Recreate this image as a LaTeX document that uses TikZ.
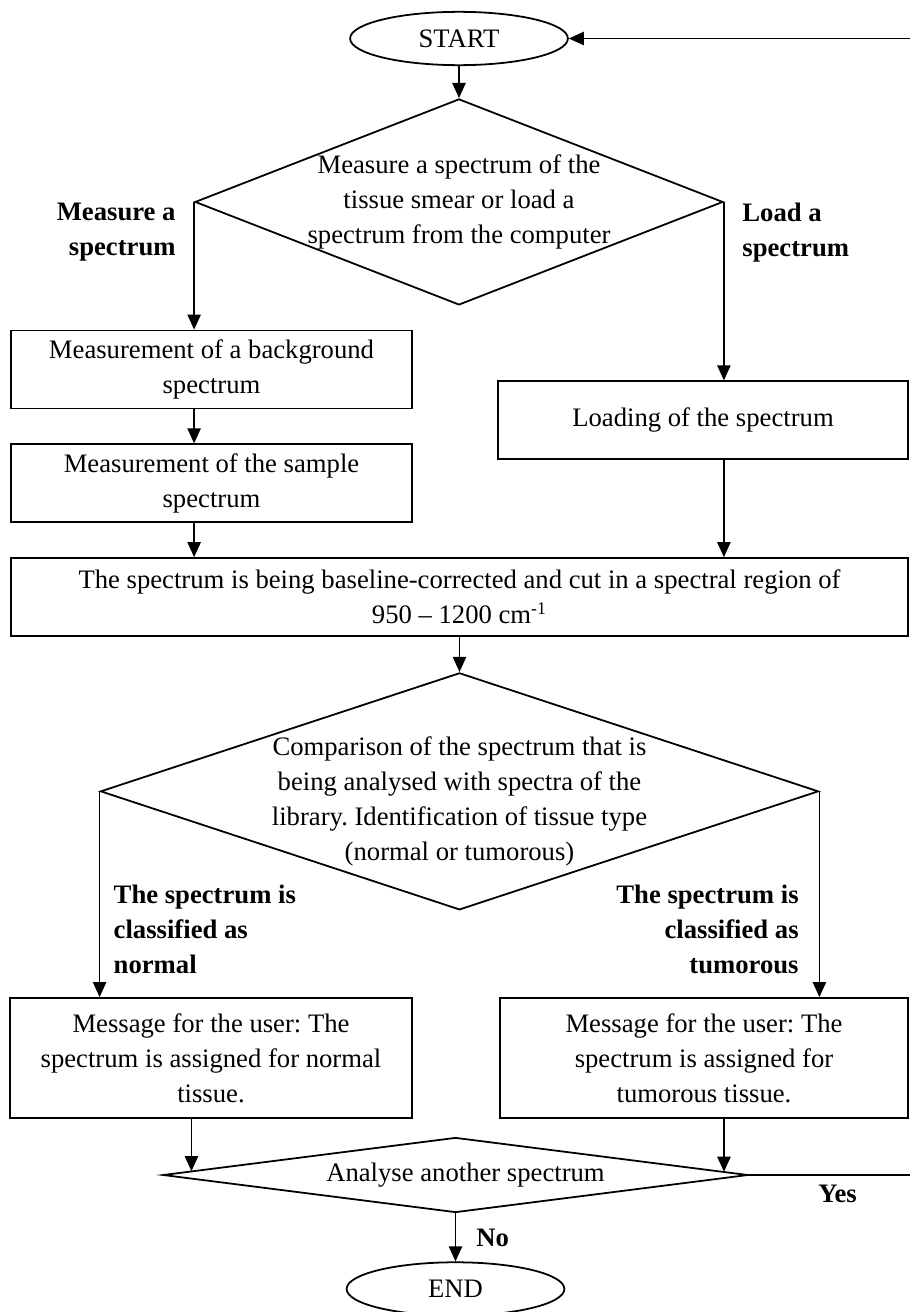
\documentclass[tikz,border=0pt]{standalone}
\usepackage{fontspec}
\setmainfont{Liberation Serif}
\usetikzlibrary{shapes.geometric,arrows.meta,positioning,calc}
\frenchspacing

\begin{document}
\begin{tikzpicture}[
  x=0.45pt,y=-0.45pt,
  txt/.style={font=\fontsize{12}{15.75}\selectfont},
  bold/.style={font=\fontsize{12}{15.75}\selectfont\bfseries,inner sep=0pt},
  term/.style={draw,ellipse,line width=0.8pt,minimum width=98pt,minimum height=24pt,inner sep=0pt,txt},
  box/.style={draw,rectangle,line width=0.8pt,minimum height=35.1pt,inner sep=0pt,align=center,txt},
  decision/.style={draw,diamond,line width=0.8pt,inner sep=0pt},
  dtext/.style={align=center,inner sep=0pt,txt},
  arrow/.style={-{Triangle[length=6.8pt,width=6pt]},line width=0.7pt}
]
  \useasboundingbox (0,0) rectangle (910,1312);

  \node[term] (start) at (459,38.5) {START};
  \node[decision,below=14.4pt of start,minimum width=237.6pt,minimum height=92.7pt,
        label={[dtext]center:{Measure a spectrum of the\\tissue smear or load a\\spectrum from the computer}}] (q1) {};
  \node[box,minimum width=180.45pt] (bg) at (211.5,369.5) {Measurement of a background\\spectrum};
  \node[box,below=15.3pt of bg,minimum width=180.45pt] (smp) {Measurement of the sample\\spectrum};
  \node[box,below=15.3pt of smp.south west,anchor=north west,minimum width=403.65pt] (base)
        {The spectrum is being baseline-corrected and cut in a spectral region of\\950 -- 1200 cm\textsuperscript{-1}};
  \node[box,above=43.65pt of base.north east,anchor=south east,minimum width=184.5pt] (load) {Loading of the spectrum};
  \node[decision,below=15.75pt of base,minimum width=323.1pt,minimum height=106.65pt,
        label={[dtext,yshift=-4.5pt]center:{Comparison of the spectrum that is\\being analysed with spectra of the\\library. Identification of tissue type\\(normal or tumorous)}}] (q2) {};
  \node[box,minimum width=180.9pt,minimum height=54pt] (nrm) at (211,1058)
        {Message for the user: The\\spectrum is assigned for normal\\tissue.};
  \node[box,minimum width=183.6pt,minimum height=54pt] (tum) at (704,1058)
        {Message for the user: The\\spectrum is assigned for\\tumorous tissue.};
  \node[decision,minimum width=263.25pt,minimum height=33.75pt,
        label={[dtext,xshift=4.5pt]center:{Analyse another spectrum}}] (ask) at (455.5,1175) {};
  \node[term,below=21.6pt of ask] (fin) {END};

  % upper part
  \draw[arrow] (start) -- (q1);
  \draw[arrow] (q1.west) -- (q1.west |- bg.north)
        node[bold,pos=0.233,left=8pt,align=right] {Measure a\\spectrum};
  \draw[arrow] (q1.west |- bg.south) -- (q1.west |- smp.north);
  \draw[arrow] (q1.west |- smp.south) -- (q1.west |- base.north);
  \draw[arrow] (q1.east) -- (q1.east |- load.north)
        node[bold,pos=0.169,right=8pt,align=left] {Load a\\spectrum};
  \draw[arrow] (q1.east |- load.south) -- (q1.east |- base.north);
  \draw[arrow] (base) -- (q2);

  % classification
  \draw[arrow] (q2.west) -- (q2.west |- nrm.north)
        node[bold,pos=0.67,right=6pt,align=left] {The spectrum is\\classified as\\normal};
  \draw[arrow] (q2.east) -- (q2.east |- tum.north)
        node[bold,pos=0.67,left=9pt,align=right] {The spectrum is\\classified as\\tumorous};

  % loop back
  \coordinate (inL) at ($(ask.west)!0.1!(ask.north)$);
  \coordinate (inR) at ($(ask.east)!0.085!(ask.north)$);
  \coordinate (rim) at (910,0);
  \draw[arrow] (nrm.south -| inL) -- (inL);
  \draw[arrow] (tum.south -| inR) -- (inR);
  \draw[line width=0.7pt] (ask.east) -- (ask.east -| rim)
        node[bold,pos=0.55,below=4pt] {Yes};
  \draw[arrow] (start.east -| rim) -- (start.east);
  \draw[arrow] (ask) -- (fin) node[bold,pos=0.52,right=9pt] {No};
\end{tikzpicture}
\end{document}
